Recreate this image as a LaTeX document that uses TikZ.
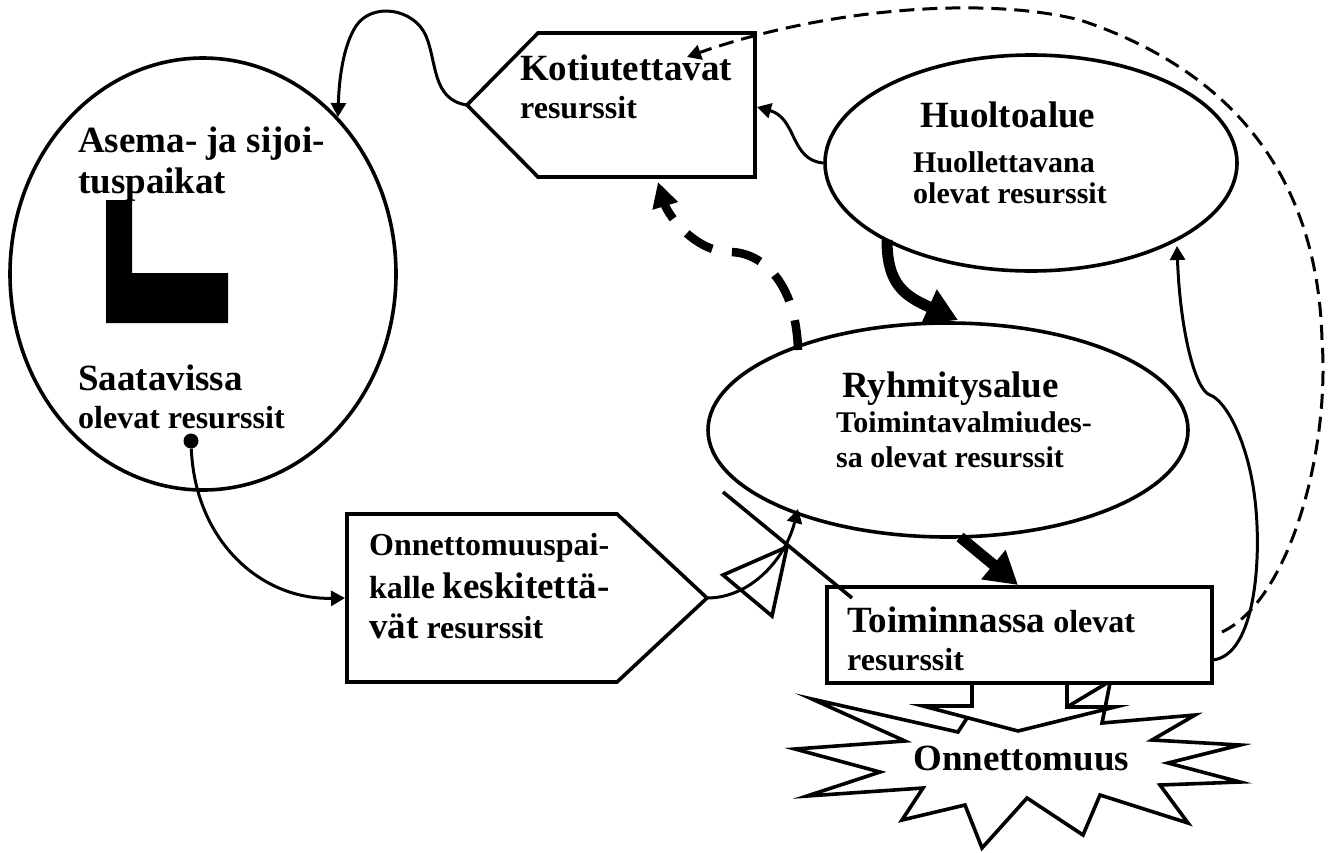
\documentclass[tikz,border=0pt]{standalone}
\usepackage{fontspec}
\setmainfont{Liberation Serif}
\usetikzlibrary{arrows.meta,shapes.geometric}
\newcommand\FBig{\fontsize{37}{42}\selectfont\bfseries}
\newcommand\FSm{\fontsize{32}{36}\selectfont\bfseries}
\newcommand\FSmm{\fontsize{30}{36}\selectfont\bfseries}
\begin{document}
\begin{tikzpicture}[x=1pt,y=-1pt,line join=miter]
\tikzset{
  outl/.style={draw, line width=3.6pt},
  conn/.style={line width=3pt, -{Triangle[length=14pt,width=15pt]}},
  fatarr/.style={line width=11pt, line cap=butt, -{Triangle[length=32pt,width=36pt]}},
  lbl/.style={anchor=base west, inner sep=0pt, font=\FSm},
  slbl/.style={anchor=base west, inner sep=0pt, font=\FSmm},
  blbl/.style={anchor=base west, inner sep=0pt, font=\FBig}
}
\useasboundingbox (0,0) rectangle (1337,852);

% ellipses
\node[outl, ellipse, minimum width=386pt, minimum height=432pt, inner sep=0pt] (asema) at (203,274) {};
\node[outl, ellipse, minimum width=412pt, minimum height=216pt, inner sep=0pt] (huolto) at (1031,163) {};
\node[outl, ellipse, minimum width=480pt, minimum height=214pt, inner sep=0pt] (ryhm) at (948,430) {};

% L symbol
\fill (106,200) -- (132,200) -- (132,273) -- (228,273) -- (228,323) -- (106,323) -- cycle;
\node[circle, fill, inner sep=0pt, minimum size=15pt] (dot) at (191,441) {};

% pentagons
\draw[outl] (467,105) coordinate (kotW) -- (538,33) -- (755,33) -- (755,177) -- (538,177) -- cycle;
\draw[outl] (347,514) -- (617,514) -- (707,598) coordinate (onnE) -- (617,682) -- (347,682) -- cycle;
\coordinate (kotE) at (757,107);
\coordinate (kotIn) at (687,57);
\coordinate (kotS) at (658,182);
\coordinate (onnW) at (345,598);

% Toiminnassa box with tabs
\node[outl, rectangle, minimum width=385pt, minimum height=96pt, inner sep=0pt] (toim) at (1019.5,635) {};
\draw[line width=3.6pt] (972,683) -- (972,706) -- (923,706) -- (1018,731) -- (1115,707) -- (1067,707) -- (1067,683);
\draw[line width=3.6pt] (1067,707) -- (1107,683);

% starburst
\draw[line width=3.6pt] (967,718) -- (958,732) -- (812,699) -- (905,741) -- (795,749) -- (880,772) -- (807,796)
  -- (923,788) -- (902,820) -- (965,805) -- (982,848) -- (1027,798) -- (1083,835) -- (1100,795)
  -- (1188,823) -- (1160,785) -- (1240,782) -- (1168,763) -- (1240,745) -- (1152,740) -- (1195,715)
  -- (1102,723) -- (1110,683);

% texts
\node[blbl] (t1) at (78,152) {Asema- ja sijoi-};
\node[blbl] (t2) at (78,193) {tuspaikat};
\node[blbl] (t3) at (78,390) {Saatavissa};
\node[lbl] (t4) at (78,428) {olevat resurssit};
\node[blbl] (t5) at (520,80) {Kotiutettavat};
\node[lbl] (t6) at (520,118) {resurssit};
\node[blbl, anchor=base] (t7) at (1008,127) {Huoltoalue};
\node[slbl, anchor=base] (t8) at (1004,172) {Huollettavana};
\node[slbl, anchor=base] (t9) at (1010,203) {olevat resurssit};
\node[blbl] (t10) at (842,397) {Ryhmitysalue};
\node[slbl] (t11) at (836,432) {Toimintavalmiudes-};
\node[slbl] (t12) at (836,467) {sa olevat resurssit};
\node[lbl] (t13) at (369,555) {Onnettomuuspai-};
\node[lbl] (t14) at (369,598) {kalle {\FBig keskitettä-}};
\node[lbl] (t15) at (369,638) {{\FBig vät} resurssit};
\node[lbl] (t16) at (847,632) {{\FBig Toiminnassa} olevat};
\node[lbl] (t17) at (847,670) {resurssit};
\node[blbl] (t18) at (913,770) {Onnettomuus};

% connectors
\coordinate (asemaIn) at (338,117);
\draw[conn] (kotW) .. controls (432,100) and (437,62) .. (426,36)
  .. controls (414,8) and (372,2) .. (356,26)
  .. controls (343,46) and (339,80) .. (asemaIn);
\draw[conn] (huolto.west) .. controls (790,160) and (797,118) .. (kotE);
\coordinate (dashS) at (1222,632);
\draw[line width=3pt, dash pattern=on 15pt off 8pt, -{Triangle[length=14pt,width=15pt]}]
  (dashS) .. controls (1290,600) and (1330,450) .. (1322,340)
  .. controls (1318,190) and (1245,75) .. (1080,20)
  .. controls (980,-5) and (820,10) .. (kotIn);
\coordinate (toimE) at (1213,660);
\coordinate (huoltoS) at (1177,246);
\draw[conn] (toimE) .. controls (1255,655) and (1262,560) .. (1255,500)
  .. controls (1248,440) and (1225,400) .. (1210,395)
  .. controls (1195,390) and (1180,330) .. (huoltoS);
\draw[conn] (dot) .. controls (195,540) and (260,600) .. (onnW);
\coordinate (ryhmSW) at (798,509);
\draw[conn] (onnE) .. controls (750,598) and (785,560) .. (ryhmSW);

% cross line and triangle
\coordinate (xa) at (723,492);
\coordinate (xb) at (852,598);
\draw[line width=3.6pt] (xa) -- (xb);
\draw[line width=3.6pt] (723,575) -- (787,547) -- (772,616) -- cycle;

% thick dashed
\coordinate (ryhmN) at (798,350);
\draw[line width=8.5pt, dash pattern=on 30pt off 20pt, -{Triangle[length=25pt,width=25pt]}]
  (ryhmN) .. controls (796,280) and (760,252) .. (730,252)
  .. controls (695,252) and (668,215) .. (kotS);

% fat arrows
\coordinate (hS) at (887,240);
\coordinate (rN) at (958,320);
\draw[fatarr] (hS) .. controls (887,285) and (905,296) .. (rN);
\coordinate (rS) at (960,537);
\coordinate (tN) at (1018,585);
\draw[fatarr] (rS) -- (tN);
\end{tikzpicture}
\end{document}
